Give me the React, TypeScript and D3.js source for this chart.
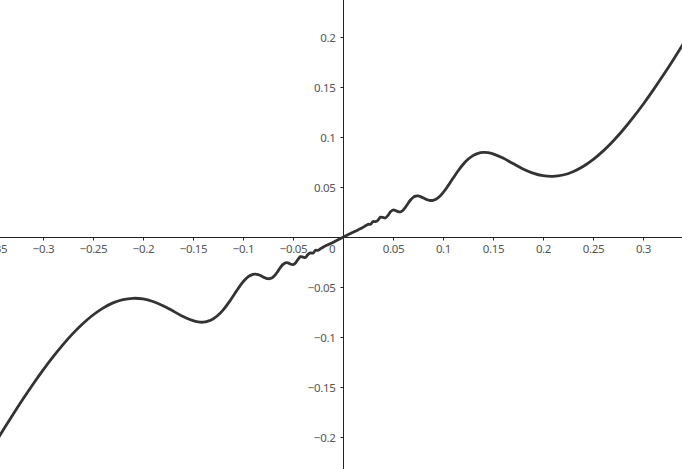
import React from "react";
import * as d3 from "d3";

const W = 682;
const H = 469;

const xTickValues = [-0.35, -0.3, -0.25, -0.2, -0.15, -0.1, -0.05, 0.05, 0.1, 0.15, 0.2, 0.25, 0.3];
const xTickLabels = ["−0.35", "−0.3", "−0.25", "−0.2", "−0.15", "−0.1", "−0.05", "0.05", "0.1", "0.15", "0.2", "0.25", "0.3"];
const yTickValues = [0.2, 0.15, 0.1, 0.05, -0.05, -0.1, -0.15, -0.2];
const yTickLabels = ["0.2", "0.15", "0.1", "0.05", "−0.05", "−0.1", "−0.15", "−0.2"];

// curve points (x, y)
const curveX = [
  -0.35, -0.34, -0.33, -0.32, -0.31, -0.3, -0.29, -0.28, -0.27, -0.26, -0.25, -0.24, -0.23, -0.22, -0.21,
  -0.2, -0.19, -0.18, -0.17, -0.16, -0.15, -0.145, -0.14, -0.135, -0.13, -0.125, -0.12, -0.115, -0.11, -0.105,
  -0.1, -0.095, -0.09, -0.0875, -0.085, -0.0825, -0.08, -0.0775, -0.075, -0.0725, -0.07, -0.0675, -0.065,
  -0.0625, -0.06, -0.0575, -0.055, -0.0525, -0.05, -0.0475, -0.045, -0.0425, -0.04, -0.0375, -0.035, -0.0325,
  -0.03, -0.0275, -0.025, -0.0225, -0.02, -0.015, -0.01, 0,
  0.01, 0.015, 0.02, 0.0225, 0.025, 0.0275, 0.03, 0.0325, 0.035, 0.0375, 0.04, 0.0425, 0.045, 0.0475, 0.05,
  0.0525, 0.055, 0.0575, 0.06, 0.0625, 0.065, 0.0675, 0.07, 0.0725, 0.075, 0.0775, 0.08, 0.0825, 0.085,
  0.0875, 0.09, 0.095, 0.1, 0.105, 0.11, 0.115, 0.12, 0.125, 0.13, 0.135, 0.14, 0.145, 0.15, 0.16, 0.17,
  0.18, 0.19, 0.2, 0.21, 0.22, 0.23, 0.24, 0.25, 0.26, 0.27, 0.28, 0.29, 0.3, 0.31, 0.32, 0.33, 0.34, 0.35,
];
const curveY = [
  -0.2094, -0.193, -0.1771, -0.1617, -0.1469, -0.1328, -0.1196, -0.1073, -0.0961, -0.0862, -0.0777, -0.0708, -0.0656, -0.0623, -0.061,
  -0.0616, -0.0642, -0.0684, -0.0737, -0.0792, -0.0834, -0.0846, -0.0849, -0.0839, -0.0817, -0.078, -0.0728, -0.0663, -0.059, -0.0514,
  -0.0446, -0.0395, -0.037, -0.0368, -0.0373, -0.0383, -0.0396, -0.0407, -0.0414, -0.0412, -0.0398, -0.0373, -0.0338,
  -0.0301, -0.0271, -0.0255, -0.0256, -0.0268, -0.0273, -0.0256, -0.022, -0.0194, -0.0198, -0.0202, -0.0171, -0.0156,
  -0.0158, -0.013, -0.013, -0.0115, -0.0099, -0.0074, -0.0051, 0,
  0.0051, 0.0074, 0.0099, 0.0115, 0.013, 0.013, 0.0158, 0.0156, 0.0171, 0.0202, 0.0198, 0.0194, 0.022, 0.0256, 0.0273,
  0.0268, 0.0256, 0.0255, 0.0271, 0.0301, 0.0338, 0.0373, 0.0398, 0.0412, 0.0414, 0.0407, 0.0396, 0.0383, 0.0373,
  0.0368, 0.037, 0.0395, 0.0446, 0.0514, 0.059, 0.0663, 0.0728, 0.078, 0.0817, 0.0839, 0.0849, 0.0846, 0.0834, 0.0792, 0.0737,
  0.0684, 0.0642, 0.0616, 0.061, 0.0623, 0.0656, 0.0708, 0.0777, 0.0862, 0.0961, 0.1073, 0.1196, 0.1328, 0.1469, 0.1617, 0.1771, 0.193, 0.2094,
];

export default function App() {
  const x = d3.scaleLinear().domain([-0.343, 0.339]).range([0, W]);
  const y = d3.scaleLinear().domain([0.2373, -0.2317]).range([0, H]);
  const x0 = Math.round(x(0)) + 0.5;
  const y0 = Math.round(y(0)) + 0.5;

  const pts: [number, number][] = curveX.map((v, i) => [v, curveY[i]]);
  const line = d3
    .line<[number, number]>()
    .x((d) => x(d[0]))
    .y((d) => y(d[1]))
    .curve(d3.curveCatmullRom.alpha(0.5));

  const font = "'Noto Sans', 'Open Sans', sans-serif";
  const fs = 11.5;
  const ls = -0.35;

  return (
    <svg
      width={W}
      height={H}
      style={{ position: "absolute", left: 0, top: 0, background: "#fff" }}
    >
      <defs>
        <clipPath id="clip">
          <rect x={0} y={0} width={W} height={H} />
        </clipPath>
      </defs>
      {/* axes */}
      <line x1={0} x2={W} y1={y0} y2={y0} stroke="#222" strokeWidth={1} />
      <line x1={x0} x2={x0} y1={0} y2={H} stroke="#222" strokeWidth={1} />
      {xTickValues.map((v, i) => {
        const px = Math.round(x(v)) + 0.5;
        return (
          <g key={"xt" + i}>
            <line x1={px} x2={px} y1={y0} y2={y0 + 3} stroke="#222" strokeWidth={1} />
            <text
              x={px}
              y={y0 + 15}
              textAnchor="middle"
              fontFamily={font}
              fontSize={fs}
              letterSpacing={ls}
              fill="#555"
            >
              {xTickLabels[i]}
            </text>
          </g>
        );
      })}
      {yTickValues.map((v, i) => {
        const py = Math.round(y(v)) + 0.5;
        return (
          <g key={"yt" + i}>
            <line x1={x0 - 3} x2={x0} y1={py} y2={py} stroke="#222" strokeWidth={1} />
            <text
              x={x0 - 8}
              y={py + 4.2}
              textAnchor="end"
              fontFamily={font}
              fontSize={fs}
              letterSpacing={ls}
              fill="#555"
            >
              {yTickLabels[i]}
            </text>
          </g>
        );
      })}
      <text x={x0 - 8} y={y0 + 15} textAnchor="end" fontFamily={font} fontSize={fs} fill="#555">
        0
      </text>
      <path
        d={line(pts) || ""}
        fill="none"
        stroke="#333"
        strokeWidth={2.8}
        strokeLinejoin="round"
        strokeLinecap="round"
        clipPath="url(#clip)"
      />
    </svg>
  );
}
